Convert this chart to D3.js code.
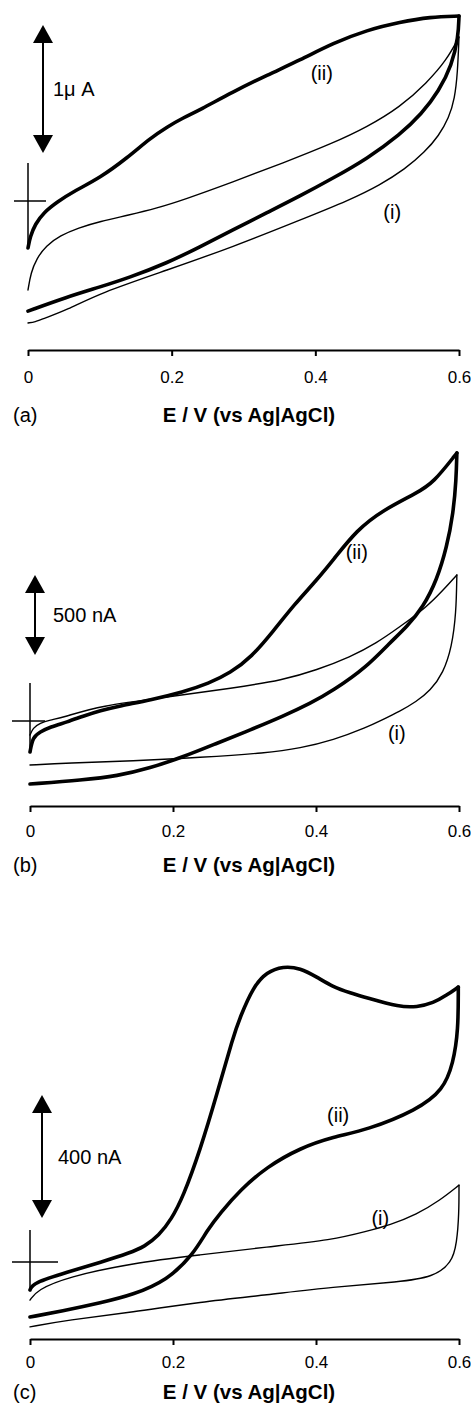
<!DOCTYPE html>
<html>
<head>
<meta charset="utf-8">
<script src="https://cdn.jsdelivr.net/npm/d3@7"></script>
<style>
  body { margin: 0; background: #fff; }
  text { font-family: "Liberation Sans", Arial, Helvetica, sans-serif; fill: #000; }
</style>
</head>
<body>
<div id="chart"></div>
<script>
// potential ticks (V vs Ag|AgCl)
const eTicks = [0, 0.2, 0.4, 0.6];
const panelLetters = ["(a)", "(b)", "(c)"];
const axisTitle = "E / V (vs Ag|AgCl)";
const curveNames = ["(i)", "(ii)"];

// scale bars (nA): size, where the bar starts, label
const barSizes = [1000, 500, 400];
const barStarts = [375, 412, 143];
const barLabels = ["1\u03bc A", "500 nA", "400 nA"];

// curve label anchors [E, I] for (i) and (ii)
const aLabels = [[0.507, -86], [0.409, 1000]];
const bLabels = [[0.513, -75], [0.457, 1056]];
const cLabels = [[0.490, 143], [0.431, 478]];

// panel (a): [E (V), I (nA)]
const aThinFwd = [[0,-695],[0.004,-560],[0.012,-450],[0.025,-350],[0.045,-270],[0.070,-210],[0.100,-160],[0.140,-110],[0.180,-55],[0.216,8],[0.285,148],[0.355,297],[0.425,453],[0.472,578],[0.518,734],[0.555,922],[0.583,1102],[0.600,1281]];
const aThinRev = [[0.600,1281],[0.598,1000],[0.594,800],[0.586,650],[0.572,510],[0.552,380],[0.525,250],[0.490,125],[0.448,8],[0.379,-148],[0.285,-359],[0.194,-539],[0.100,-719],[0.054,-852],[0.021,-920],[0.010,-945],[0,-953]];
const aThickFwd = [[0,-367],[0.003,-280],[0.010,-180],[0.022,-90],[0.040,-10],[0.065,80],[0.100,180],[0.138,336],[0.170,490],[0.194,580],[0.216,650],[0.239,711],[0.285,852],[0.333,984],[0.379,1102],[0.425,1234],[0.472,1336],[0.518,1398],[0.560,1438],[0.600,1445]];
const aThickRev = [[0.600,1445],[0.599,1281],[0.590,1060],[0.572,860],[0.548,680],[0.518,520],[0.472,330],[0.425,180],[0.379,40],[0.333,-90],[0.285,-227],[0.239,-359],[0.194,-484],[0.140,-600],[0.100,-672],[0.054,-750],[0,-860]];

// panel (b)
const bThinFwd = [[0,-88],[0.004,-44],[0.014,-13],[0.028,6],[0.046,22],[0.098,95],[0.192,150],[0.284,206],[0.354,256],[0.401,319],[0.448,400],[0.485,488],[0.517,588],[0.555,713],[0.578,819],[0.597,913]];
const bThinRev = [[0.597,913],[0.596,675],[0.590,463],[0.578,300],[0.560,190],[0.540,120],[0.517,60],[0.494,10],[0.471,-40],[0.424,-120],[0.378,-170],[0.331,-200],[0.238,-228],[0.144,-250],[0.052,-263],[0,-275]];
const bThickFwd = [[0,-194],[0.004,-100],[0.014,-69],[0.028,-38],[0.052,-6],[0.074,30],[0.098,65],[0.126,95],[0.168,131],[0.214,181],[0.250,235],[0.280,300],[0.310,400],[0.340,560],[0.370,730],[0.401,881],[0.424,1006],[0.457,1194],[0.494,1319],[0.541,1425],[0.564,1488],[0.597,1675]];
const bThickRev = [[0.597,1675],[0.596,1506],[0.592,1300],[0.583,1088],[0.569,881],[0.550,713],[0.527,588],[0.503,488],[0.471,338],[0.424,190],[0.392,110],[0.354,30],[0.308,-56],[0.262,-138],[0.214,-225],[0.168,-294],[0.122,-344],[0.074,-369],[0,-394]];

// panel (c)
const cThinFwd = [[0,-124],[0.010,-91],[0.052,-49],[0.144,-3],[0.238,23],[0.331,49],[0.424,72],[0.471,100],[0.503,120],[0.541,155],[0.573,200],[0.600,250]];
const cThinRev = [[0.600,250],[0.600,159],[0.597,62],[0.590,-3],[0.564,-49],[0.517,-65],[0.424,-81],[0.331,-107],[0.238,-130],[0.144,-163],[0.052,-189],[0,-211]];
const cThickFwd = [[0,-91],[0.004,-68],[0.052,-33],[0.100,0],[0.140,30],[0.160,50],[0.180,85],[0.198,140],[0.214,211],[0.238,364],[0.262,550],[0.284,732],[0.294,797],[0.312,894],[0.331,943],[0.354,962],[0.378,956],[0.401,927],[0.424,894],[0.448,875],[0.471,859],[0.517,829],[0.541,829],[0.564,842],[0.583,868],[0.599,894]];
const cThickRev = [[0.599,894],[0.599,754],[0.592,647],[0.578,559],[0.541,494],[0.471,429],[0.424,407],[0.378,371],[0.331,309],[0.294,234],[0.266,159],[0.248,104],[0.228,23],[0.192,-59],[0.144,-107],[0.098,-133],[0.052,-156],[0,-179]];

const width = 471;
const height = 1405;

// layout of each panel (pixels)
const panels = [
  { x0: 28, x1: 459, axisY: 350, zeroY: 201, barPx: 128, barX: 43, barLabelX: 53, labelDy: 27, titleDy: 65,
    cross: [14, 18, 38, 44], thin: [aThinFwd, aThinRev], thick: [aThickFwd, aThickRev], labels: aLabels },
  { x0: 30, x1: 459, axisY: 806, zeroY: 721, barPx: 80, barX: 35, barLabelX: 53, labelDy: 25, titleDy: 59,
    cross: [18, 15, 38, 31], thin: [bThinFwd, bThinRev], thick: [bThickFwd, bThickRev], labels: bLabels },
  { x0: 30, x1: 459, axisY: 1339, zeroY: 1262, barPx: 123, barX: 42, barLabelX: 58, labelDy: 23, titleDy: 53,
    cross: [18, 28, 32, 28], thin: [cThinFwd, cThinRev], thick: [cThickFwd, cThickRev], labels: cLabels }
];

const svg = d3.select("#chart")
  .append("svg")
  .attr("width", width)
  .attr("height", height);

panels.forEach((p, i) => {
  const x = d3.scaleLinear().domain([0, 0.6]).range([p.x0, p.x1]);
  const y = d3.scaleLinear().domain([0, barSizes[i]]).range([p.zeroY, p.zeroY - p.barPx]);
  const g = svg.append("g");

  const line = d3.line()
    .x(d => x(d[0]))
    .y(d => y(d[1]))
    .curve(d3.curveBasis);

  // voltammograms
  p.thin.forEach(seg => {
    g.append("path").attr("d", line(seg))
      .attr("fill", "none").attr("stroke", "#000")
      .attr("stroke-width", 1.4).attr("stroke-linecap", "round");
  });
  p.thick.forEach(seg => {
    g.append("path").attr("d", line(seg))
      .attr("fill", "none").attr("stroke", "#000")
      .attr("stroke-width", 3.6).attr("stroke-linecap", "round");
  });

  // origin cross
  const ox = x(0), oy = y(0);
  g.append("line").attr("x1", ox - p.cross[0]).attr("x2", ox + p.cross[1])
    .attr("y1", oy).attr("y2", oy).attr("stroke", "#000").attr("stroke-width", 1.5);
  g.append("line").attr("x1", ox).attr("x2", ox)
    .attr("y1", oy - p.cross[2]).attr("y2", oy + p.cross[3]).attr("stroke", "#000").attr("stroke-width", 1.5);

  // scale bar with arrowheads
  const top = y(barStarts[i] + barSizes[i]);
  const bot = y(barStarts[i]);
  const hh = 18, hw = 10;
  g.append("line").attr("x1", p.barX).attr("x2", p.barX)
    .attr("y1", top + hh - 2).attr("y2", bot - hh + 2)
    .attr("stroke", "#000").attr("stroke-width", 2);
  g.append("path")
    .attr("d", `M${p.barX},${top}L${p.barX - hw},${top + hh}L${p.barX + hw},${top + hh}Z`)
    .attr("fill", "#000");
  g.append("path")
    .attr("d", `M${p.barX},${bot}L${p.barX - hw},${bot - hh}L${p.barX + hw},${bot - hh}Z`)
    .attr("fill", "#000");
  g.append("text")
    .attr("x", p.barLabelX).attr("y", (top + bot) / 2)
    .attr("dy", "0.36em").attr("font-size", 20)
    .text(barLabels[i]);

  // curve labels
  p.labels.forEach((d, k) => {
    g.append("text")
      .attr("x", x(d[0])).attr("y", y(d[1]))
      .attr("dy", "0.36em").attr("text-anchor", "middle")
      .attr("font-size", 20)
      .text(curveNames[k]);
  });

  // x axis
  const axis = d3.axisBottom(x)
    .tickValues(eTicks)
    .tickFormat(d => d === 0 ? "0" : d3.format(".1f")(d))
    .tickSize(6)
    .tickSizeOuter(0)
    .tickPadding(p.labelDy - 12);

  const ax = g.append("g")
    .attr("transform", `translate(0,${p.axisY})`)
    .call(axis)
    .attr("font-size", null)
    .attr("font-family", null);
  ax.select(".domain").attr("stroke-width", 2);
  ax.selectAll(".tick line").attr("stroke-width", 2);
  ax.selectAll(".tick text").attr("font-size", 17);

  g.append("text")
    .attr("x", 249).attr("y", p.axisY + p.titleDy)
    .attr("dy", "0.36em").attr("text-anchor", "middle")
    .attr("font-size", 20.5).attr("font-weight", "bold")
    .text(axisTitle);

  g.append("text")
    .attr("x", 13).attr("y", p.axisY + p.titleDy)
    .attr("dy", "0.36em").attr("font-size", 20)
    .text(panelLetters[i]);
});
</script>
</body>
</html>
